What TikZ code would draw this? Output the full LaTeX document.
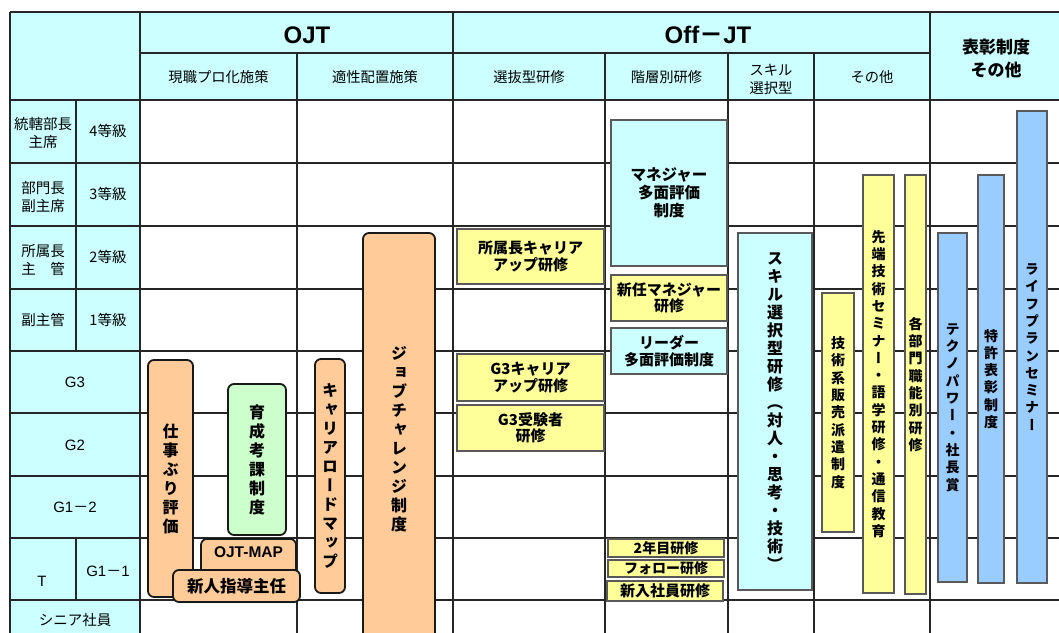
\documentclass[tikz,border=0pt]{standalone}
\usepackage{fontspec}
\setmainfont{Liberation Sans}
\newfontfamily\jp{Noto Sans CJK JP}
\newfontfamily\jpv[RawFeature=+vert]{Noto Sans CJK JP}
\definecolor{hcyan}{RGB}{204,255,255}
\definecolor{bor}{RGB}{255,204,153}
\definecolor{bgreen}{RGB}{204,255,204}
\definecolor{byellow}{RGB}{255,255,153}
\definecolor{bblue}{RGB}{153,204,255}
\begin{document}
\begin{tikzpicture}[x=1pt,y=-1pt,
  gridline/.style={line width=1.1pt, draw=black!85},
  rbox/.style={draw=black!90, line width=1.8pt, rounded corners=6pt, inner sep=0pt, align=center},
  sbox/.style={draw=black!65, line width=1.5pt, inner sep=0pt, align=center},
  vbig/.style={font=\jpv\bfseries\fontsize{16}{19}\selectfont},
  vsk/.style={font=\jpv\bfseries\fontsize{16}{18}\selectfont},
  vsmall/.style={font=\jpv\bfseries\fontsize{14}{17.3}\selectfont},
  hb/.style={font=\jp\bfseries\fontsize{15}{16.5}\selectfont},
  lab/.style={font=\jp\fontsize{14.5}{18.5}\selectfont, align=center, inner sep=0pt},
  glab/.style={font=\fontsize{15}{18}\selectfont, inner sep=0pt},
  sub/.style={font=\jp\fontsize{14.3}{18}\selectfont, align=center, inner sep=0pt},
  big/.style={font=\bfseries\fontsize{24}{26}\selectfont, inner sep=0pt, anchor=base}
]
\useasboundingbox (0,0) rectangle (1059,632);
\clip (0,0) rectangle (1059,632);
% backgrounds
\fill[white] (0,0) rectangle (1059,632);
\fill[hcyan] (10,12) rectangle (1065,100);
\fill[hcyan] (10,100) rectangle (140,670);
% grid
\foreach \yy in {12,100,163,226,289,351,413,476,538,600}
  \draw[gridline] (10,\yy) -- (1065,\yy);
\draw[gridline] (140,53) -- (930,53);
\foreach \xx in {10,140,453,930}
  \draw[gridline] (\xx,12) -- (\xx,670);
\foreach \xx in {297,605,728,814}
  \draw[gridline] (\xx,53) -- (\xx,670);
\draw[gridline] (76,100) -- (76,351);
\draw[gridline] (76,538) -- (76,600);
% header texts
\node[big] (ojt) at (307,43) {OJT};
\node[big] (offjt) at (708,43) {Off{\jp －}JT};
\node[font=\jp\bfseries\fontsize{17}{23}\selectfont, align=center, inner sep=0pt] (hyosho) at (996,58.5) {表彰制度\\その他};
\node[sub] (h1) at (218.5,77) {現職プロ化施策};
\node[sub] (h2) at (375,77) {適性配置施策};
\node[sub] (h3) at (529,77) {選抜型研修};
\node[sub] (h4) at (666.5,77) {階層別研修};
\node[sub] (h5) at (771,79) {スキル\\選択型};
\node[sub] (h6) at (872,77) {その他};
% left labels
\node[lab] (l4a) at (43,133) {統轄部長\\主席};
\node[lab] (l4b) at (108,131) {4{\jp 等級}};
\node[lab] (l3a) at (43,197) {部門長\\副主席};
\node[lab] (l3b) at (108,194) {3{\jp 等級}};
\node[lab] (l2a) at (43,260) {所属長\\主　管};
\node[lab] (l2b) at (108,257) {2{\jp 等級}};
\node[lab] (l1a) at (43,320) {副主管};
\node[lab] (l1b) at (108,320) {1{\jp 等級}};
\node[glab] (lg3) at (75,382) {G3};
\node[glab] (lg2) at (75,445) {G2};
\node[glab] (lg12) at (75,507) {G1{\jp －}2};
\node[glab] (lt) at (42,581) {T};
\node[glab] (lg11) at (108,571) {G1{\jp －}1};
\node[lab] (lsenior) at (75,620) {シニア社員};
% OJT boxes
\node[rbox, fill=bor, minimum width=45, minimum height=237, vbig] (shigoto) at (170.5,478.5) {仕\\事\\ぶ\\り\\評\\価};
\node[rbox, fill=bgreen, minimum width=58, minimum height=151, vbig] (ikusei) at (257,459.5) {育\\成\\考\\課\\制\\度};
\node[rbox, fill=bor, minimum width=95, minimum height=38, font=\bfseries\fontsize{15.5}{18}\selectfont, anchor=north] (ojtmap) at (248.5,538) {\raisebox{0pt}[0pt][0pt]{}\\[-30pt]OJT-MAP};
\node[rbox, fill=bor, minimum width=127, minimum height=32, font=\jp\bfseries\fontsize{16.5}{18}\selectfont] (shinjin) at (236.5,586) {新人指導主任};
\node[rbox, fill=bor, minimum width=30, minimum height=234, vbig] (career) at (330,476) {キ\\ャ\\リ\\ア\\ロ\\ー\\ド\\マ\\ッ\\プ};
\node[rbox, fill=bor, minimum width=72, minimum height=412, vbig] (job) at (399,439) {ジ\\ョ\\ブ\\チ\\ャ\\レ\\ン\\ジ\\制\\度};
% selective training
\node[sbox, fill=byellow, minimum width=147, minimum height=55, hb] (shozoku) at (530.5,256.5) {所属長キャリア\\アップ研修};
\node[sbox, fill=byellow, minimum width=147, minimum height=47, hb] (g3career) at (530.5,377.5) {G3キャリア\\アップ研修};
\node[sbox, fill=byellow, minimum width=147, minimum height=46, hb] (g3juken) at (530.5,428) {G3受験者\\研修};
% hierarchical
\node[sbox, fill=hcyan, minimum width=116, minimum height=146, font=\jp\bfseries\fontsize{15.5}{18}\selectfont] (manager) at (669,193) {マネジャー\\多面評価\\制度};
\node[sbox, fill=byellow, minimum width=116, minimum height=46, hb] (shinnin) at (669,298) {新任マネジャー\\研修};
\node[sbox, fill=hcyan, minimum width=116, minimum height=46, hb] (leader) at (669,351) {リーダー\\多面評価制度};
\node[sbox, fill=byellow, minimum width=116, minimum height=18, font=\jp\bfseries\fontsize{14}{16}\selectfont] (nen2) at (666,548) {2年目研修};
\node[sbox, fill=byellow, minimum width=116, minimum height=17, font=\jp\bfseries\fontsize{14}{16}\selectfont] (follow) at (666,568.5) {フォロー研修};
\node[sbox, fill=byellow, minimum width=116, minimum height=20, font=\jp\bfseries\fontsize{15}{17}\selectfont] (shinnyu) at (665,591) {新入社員研修};
% skill
\node[sbox, fill=hcyan, minimum width=74, minimum height=357, vsk] (skill) at (775,411.5) {ス\\キ\\ル\\選\\択\\型\\研\\修\\（\\対\\人\\・\\思\\考\\・\\技\\術\\）};
% others
\node[sbox, fill=byellow, minimum width=32, minimum height=239, vsmall] (gijutsu) at (838,412.5) {技\\術\\系\\販\\売\\派\\遣\\制\\度};
\node[sbox, fill=byellow, minimum width=31, minimum height=418, vsmall] (sentan) at (878.5,384) {先\\端\\技\\術\\セ\\ミ\\ナ\\ー\\・\\語\\学\\研\\修\\・\\通\\信\\教\\育};
\node[sbox, fill=byellow, minimum width=21, minimum height=419, vsmall] (kakubu) at (915.5,384.5) {各\\部\\門\\職\\能\\別\\研\\修};
% awards
\node[sbox, fill=bblue, minimum width=29, minimum height=349, vsmall] (techno) at (952.5,407.5) {テ\\ク\\ノ\\パ\\ワ\\ー\\・\\社\\長\\賞};
\node[sbox, fill=bblue, minimum width=26, minimum height=408, vsmall] (tokkyo) at (991,379) {特\\許\\表\\彰\\制\\度};
\node[sbox, fill=bblue, minimum width=30, minimum height=472, vsmall] (life) at (1032,347) {ラ\\イ\\フ\\プ\\ラ\\ン\\セ\\ミ\\ナ\\ー};
\end{tikzpicture}
\end{document}
